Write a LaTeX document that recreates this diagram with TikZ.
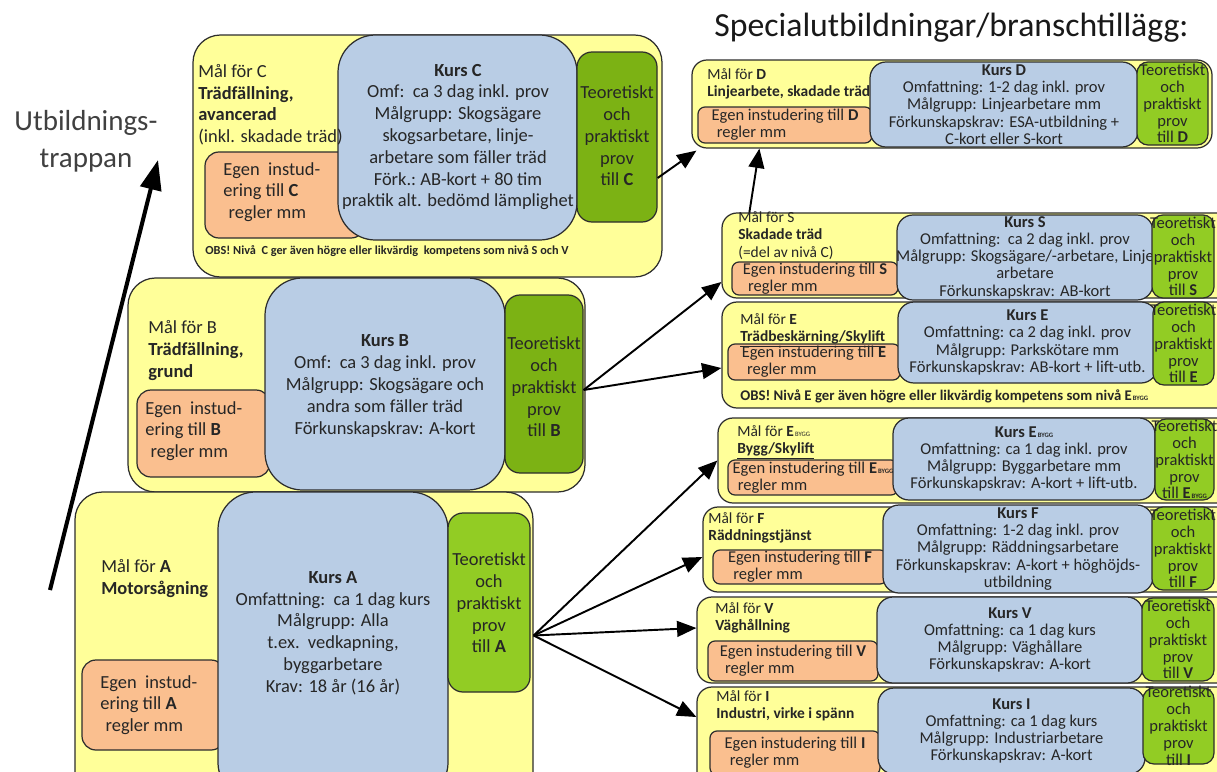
\documentclass[tikz,border=0pt]{standalone}
\usepackage{fontspec}
\setmainfont{Carlito}
\usetikzlibrary{arrows.meta, positioning, fit}
\definecolor{gulmal}{RGB}{255,255,153}
\definecolor{blakurs}{RGB}{185,205,229}
\definecolor{orangeegen}{RGB}{250,191,143}
\definecolor{gronprov}{RGB}{146,204,36}
\definecolor{gronmork}{RGB}{124,178,20}
\definecolor{kant}{RGB}{45,45,45}
\definecolor{textgra}{RGB}{38,38,38}
\newcommand{\stor}{\fontsize{10.5}{12.4}\selectfont}
\newcommand{\liten}{\fontsize{9.4}{9.8}\selectfont}
\newcommand{\litenmal}{\fontsize{8.8}{9.9}\selectfont}
\newcommand{\litenprov}{\fontsize{9.4}{9.6}\selectfont}
\newcommand{\bygg}{{\fontsize{3.8}{4}\selectfont\,BYGG}}

\begin{document}
\begin{tikzpicture}[x=0.02cm, y=-0.02cm, text=textgra,
    ram/.style={draw=kant, line width=0.7pt, inner sep=0pt},
    mal/.style={ram, fill=gulmal, rounded corners=0.55cm},
    malR/.style={ram, fill=gulmal, rounded corners=0.3cm},
    kurs/.style={ram, fill=blakurs, rounded corners=0.75cm},
    kursR/.style={ram, fill=blakurs, rounded corners=0.32cm},
    egen/.style={ram, fill=orangeegen, rounded corners=0.28cm},
    egenR/.style={ram, fill=orangeegen, rounded corners=0.14cm},
    prov/.style={ram, fill=gronmork, rounded corners=0.3cm},
    provR/.style={ram, fill=gronprov, rounded corners=0.22cm},
    txt/.style={inner sep=0pt, anchor=north west, align=left},
    mitt/.style={inner sep=0pt, align=center},
    pil/.style={-{Triangle[length=11pt,width=9pt]}, line width=1.1pt},
    trappil/.style={-{Triangle[length=17pt,width=12pt]}, line width=2.3pt}]
    \useasboundingbox (0,0) rectangle (1217,771);
    \clip (0,0) rectangle (1217,771);
    \fill[white] (0,0) rectangle (1217,771);

    % rubriker
    \node[anchor=west, inner sep=0pt, font=\fontsize{19.2}{22}\selectfont, text=black!90] (rubrik) at (714,28) {Specialutbildningar/branschtillägg:};
    \node[mitt, font=\fontsize{16.5}{21}\selectfont, text=black!75] (trappan) at (86,141) {Utbildnings-\\trappan};
    \coordinate (trappaA) at (50,590);
    \coordinate (trappaC) at (158,160);
    \draw[trappil] (trappaA) -- (trappaC);

    % niva C
    \node[mal, fit={(193,35) (662,277)}] (malC) {};
    \node[egen, fit={(205,152) (365,238)}] (egenC) {};
    \node[kurs, fit={(338,35) (577,240)}] (kursC) {};
    \node[prov, fit={(577,52) (657,222)}] (provC) {};
    \node[mitt, font=\stor] (tkursC) at (458,137) {\textbf{Kurs C}\\Omf:\ \ ca 3 dag inkl. prov\\Målgrupp: Skogsägare\\skogsarbetare, linje-\\arbetare som fäller träd\\Förk.:\ AB-kort + 80 tim\\praktik alt. bedömd\ lämplighet};
    \node[mitt, font=\stor] (tprovC) at (617,136) {Teoretiskt\\och\\praktiskt\\prov\\till \textbf{C}};
    \node[txt, font=\stor] (tmalC) at (198,64) {Mål för C\\\textbf{Trädfällning,}\\\textbf{avancerad}\\(inkl. skadade träd)};
    \node[txt, font=\stor] (tegenC) at (223,162) {Egen\ \ instud-\\ering till \textbf{C}\\\hspace{3pt}regler mm};
    \node[txt, anchor=west, font=\fontsize{7}{8}\selectfont\bfseries] (obsC) at (205,251) {OBS! Nivå\ \ C ger även högre eller likvärdig\ \ kompetens som nivå S och V};

    % niva B
    \node[mal, fit={(128,278) (585,492)}] (malB) {};
    \node[egen, fit={(137,390) (270,477)}] (egenB) {};
    \node[kurs, fit={(265,278) (505,490)}] (kursB) {};
    \node[prov, fit={(505,295) (583,473)}] (provB) {};
    \node[mitt, font=\stor] (tkursB) at (385,386) {\textbf{Kurs B}\\Omf:\ \ ca 3 dag inkl. prov\\Målgrupp: Skogsägare och\\andra som fäller träd\\Förkunskapskrav: A-kort};
    \node[mitt, font=\stor] (tprovB) at (544,387) {Teoretiskt\\och\\praktiskt\\prov\\till \textbf{B}};
    \node[txt, font=\stor] (tmalB) at (148,320) {Mål för B\\\textbf{Trädfällning,}\\\textbf{grund}};
    \node[txt, font=\stor] (tegenB) at (145,401) {Egen\ \ instud-\\ering till \textbf{B}\\\hspace{3pt}regler mm};

    % niva A
    \node[mal, fit={(75,492) (533,800)}] (malA) {};
    \node[egen, fit={(82,660) (225,750)}] (egenA) {};
    \node[kurs, fit={(218,492) (448,800)}] (kursA) {};
    \node[prov, fill=gronprov, fit={(448,513) (530,692)}] (provA) {};
    \node[mitt, font=\stor] (tkursA) at (333,633) {\textbf{Kurs A}\\Omfattning:\ \ ca 1 dag kurs\\Målgrupp: Alla\\t.ex.\ \ vedkapning,\\byggarbetare\\Krav: 18 år (16 år)};
    \node[mitt, font=\stor] (tprovA) at (489,603) {Teoretiskt\\och\\praktiskt\\prov\\till \textbf{A}};
    \node[txt, font=\stor] (tmalA) at (101,559) {Mål för \textbf{A}\\\textbf{Motorsågning}};
    \node[txt, font=\stor] (tegenA) at (100,675) {Egen\ \ instud-\\ering till \textbf{A}\\\hspace{3pt}regler mm};

    % specialutbildningar
    \foreach \n/\xa/\ya/\xb/\yb in {D/692/60/1212/148, S/722/213/1240/298, E/722/302/1240/408,
        Eb/718/418/1240/503, F/703/507/1240/592, V/697/597/1240/683, I/697/687/1240/790}
        \node[malR, fit={(\xa,\ya) (\xb,\yb)}] (mal\n) {};
    \foreach \n/\xa/\ya/\xb/\yb/\bok in {D/698/107/872/143/D, S/732/262/898/295/S, E/728/344/900/380/E,
        Eb/728/460/898/495/{E\bygg}, F/713/550/887/584/F, V/708/641/878/681/V, I/710/731/880/775/I}
    {
        \node[egenR, fit={(\xa,\ya) (\xb,\yb)}] (egen\n) {};
        \node[mitt, align=left, font=\liten] (tegen\n) at (egen\n) {Egen instudering till \textbf{\bok}\\\hspace{3pt}regler mm};
    }
    \foreach \n/\xa/\ya/\xb/\yb/\innehall in {
        D/870/62/1138/147/{\textbf{Kurs D}\\Omfattning: 1-2 dag inkl. prov\\Målgrupp: Linjearbetare mm\\Förkunskapskrav: ESA-utbildning +\\C-kort eller S-kort},
        S/897/215/1153/300/{\textbf{Kurs S}\\Omfattning:\ \ ca 2 dag inkl. prov\\Målgrupp: Skogsägare/-arbetare, Linje\\arbetare\\Förkunskapskrav: AB-kort},
        E/898/302/1157/383/{\textbf{Kurs E}\\Omfattning: ca 2 dag inkl. prov\\Målgrupp: Parkskötare mm\\Förkunskapskrav: AB-kort + lift-utb.},
        Eb/893/418/1155/500/{\textbf{Kurs E\bygg}\\Omfattning: ca 1 dag inkl. prov\\Målgrupp: Byggarbetare mm\\Förkunskapskrav: A-kort + lift-utb.},
        F/883/505/1153/593/{\textbf{Kurs F}\\Omfattning: 1-2 dag inkl. prov\\Målgrupp: Räddningsarbetare\\Förkunskapskrav: A-kort + höghöjds-\\utbildning},
        V/877/597/1143/683/{\textbf{Kurs V}\\Omfattning: ca 1 dag kurs\\Målgrupp: Väghållare\\Förkunskapskrav: A-kort},
        I/878/688/1145/774/{\textbf{Kurs I}\\Omfattning: ca 1 dag kurs\\Målgrupp: Industriarbetare\\Förkunskapskrav: A-kort}}
    {
        \node[kursR, fit={(\xa,\ya) (\xb,\yb)}] (kurs\n) {};
        \node[mitt, font=\liten] (tkurs\n) at (kurs\n) {\innehall};
    }
    \foreach \n/\xa/\ya/\xb/\yb/\bok in {D/1137/62/1208/145/D, S/1152/215/1214/298/S, E/1153/302/1214/385/E,
        Eb/1155/419/1214/500/{E\bygg}, F/1152/507/1214/590/F, V/1142/598/1214/681/V, I/1143/688/1214/764/I}
    {
        \node[provR, fit={(\xa,\ya) (\xb,\yb)}] (prov\n) {};
        \node[mitt, font=\litenprov] (tprov\n) at (prov\n) {Teoretiskt\\och\\praktiskt\\prov\\till \textbf{\bok}};
    }
    \foreach \n/\x/\y/\innehall in {
        D/707/68/{Mål för \textbf{D}\\\textbf{Linjearbete, skadade träd}},
        S/738/211/{Mål för S\\\textbf{Skadade träd}\\(=del av nivå C)},
        E/740/313/{Mål för \textbf{E}\\\underline{\textbf{Trädbeskärning/Skylift}}},
        Eb/737/425/{Mål för \textbf{E}\bygg\\\underline{\textbf{Bygg/Skylift}}},
        F/708/512/{Mål för \textbf{F}\\\textbf{Räddningstjänst}},
        V/715/602/{Mål för \textbf{V}\\\textbf{Väghållning}},
        I/716/690/{Mål för \textbf{I}\\\textbf{Industri, virke i spänn}}}
        \node[txt, font=\litenmal] (tmal\n) at (\x,\y) {\innehall};
    \node[txt, anchor=west, font=\fontsize{8.4}{9}\selectfont\bfseries] (obsE) at (740,396) {OBS! Nivå E ger även högre eller likvärdig kompetens som nivå E\bygg};

    % pilar
    \draw[pil] ([yshift=-0.82cm]provC.east) -- ([xshift=0.1cm,yshift=-0.04cm]malD.south west);
    \draw[pil] ([xshift=0.56cm]malS.north west) -- ([xshift=1.36cm]malD.south west);
    \draw[pil] ([yshift=-0.12cm]provB.east) -- ([yshift=-0.53cm]malS.west);
    \draw[pil] ([yshift=-0.12cm]provB.east) -- ([yshift=-0.26cm]malE.west);
    \foreach \mal/\skift in {Eb/0, F/-0.15, V/0.24, I/0.43}
        \draw[pil] ([xshift=0.06cm,yshift=-0.66cm]provA.east) -- ([yshift=\skift cm]mal\mal.west);
\end{tikzpicture}
\end{document}
